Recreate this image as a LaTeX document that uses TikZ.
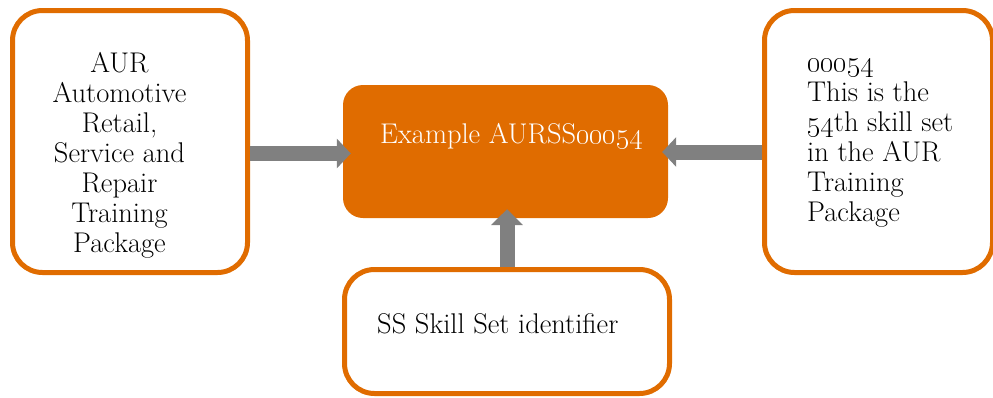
\RequirePackage{fix-cm}
\documentclass[tikz,border=0pt]{standalone}
\usetikzlibrary{arrows.meta}
\definecolor{orng}{RGB}{224,108,0}
\definecolor{grayarr}{RGB}{128,128,128}
\tikzset{
  obox/.style={draw=orng, line width=5pt, fill=white, rounded corners=30pt, inner sep=0pt},
  cbox/.style={fill=orng, rounded corners=20pt, inner sep=0pt},
  txt/.style={font=\fontsize{28.5}{30}\selectfont, inner sep=0pt},
  garrow/.style={draw=grayarr, line width=15pt, -{Triangle[width=29pt,length=14pt]}},
}
\begin{document}
\begin{tikzpicture}[x=1pt,y=-1pt]
\useasboundingbox (0,0) rectangle (993,397);
% boxes
\node[obox, minimum width=235pt, minimum height=262pt] (aur) at (130,141.5) {};
\node[cbox, minimum width=325pt, minimum height=133pt] (ex) at (505.5,151.5) {};
\node[obox, minimum width=228pt, minimum height=262pt] (num) at (878.5,141.5) {};
\node[obox, minimum width=325pt, minimum height=124pt] (ss) at (507,331.5) {};
% texts (base anchor = baseline of the last line)
\node[txt, anchor=base, align=center] (aurt) at (119.5,252)
  {AUR\\Automotive\\Retail,\\Service and\\Repair\\Training\\Package};
\node[txt, anchor=base west, text=white] (ext) at (380,143)
  {Example AURSS\oldstylenums{00054}};
\node[txt, anchor=base west, align=left] (numt) at (807,221)
  {\oldstylenums{00054}\\This is the\\\oldstylenums{54}th skill set\\in the AUR\\Training\\Package};
\node[txt, anchor=base west] (sst) at (377,333) {SS Skill Set identifier};
% arrows
\draw[garrow, shorten >=-8pt] (aur.east |- 0,153.5) -- (ex.west |- 0,153.5);
\draw[garrow, shorten >=-6pt] (num.west |- 0,152) -- (ex.east |- 0,152);
\draw[garrow, -{Triangle[width=31pt,length=16pt]}, shorten >=-9pt] (ss.north) -- (ss.north |- ex.south);
\end{tikzpicture}
\end{document}
